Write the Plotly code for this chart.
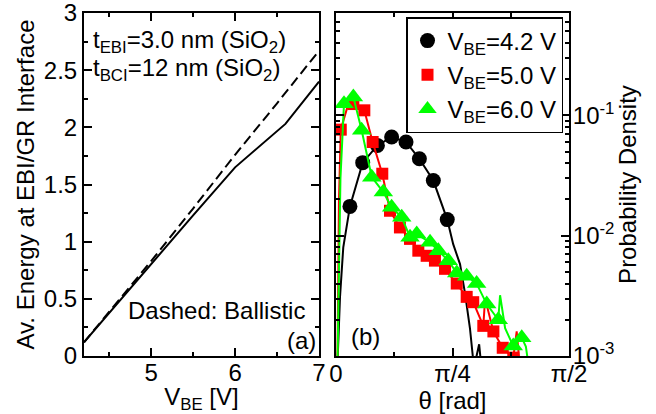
import math
import plotly.graph_objects as go

# ---------------- data: panel (a) ----------------
vbe_solid = [4.2, 4.7, 5.0, 5.5, 6.0, 6.6, 7.0]
energy_solid = [0.12, 0.55, 0.80, 1.23, 1.65, 2.03, 2.40]
vbe_dashed = [4.2, 4.7, 5.0, 5.5, 6.0, 6.5, 7.0]
energy_dashed = [0.12, 0.56, 0.83, 1.29, 1.76, 2.21, 2.67]

# ---------------- data: panel (b) ----------------
theta_42_m = [0.094, 0.180, 0.279, 0.375, 0.472, 0.562, 0.656, 0.750]
pd_42_m = [0.0175, 0.0404, 0.0562, 0.066, 0.060, 0.0435, 0.0287, 0.0136]
theta_42_l = [0.005, 0.027, 0.049, 0.094, 0.180, 0.279, 0.375, 0.472, 0.562, 0.656,
              0.750, 0.790, 0.836, 0.870, 0.903, 0.930, 0.965, 0.985]
pd_42_l = [0.0006, 0.0031, 0.008, 0.0175, 0.0404, 0.0562, 0.066, 0.060, 0.0435, 0.0287,
           0.0136, 0.0085, 0.0058, 0.0033, 0.0017, 0.0008, 0.00125, 0.0007]

theta_50_m = [0.032, 0.117, 0.191, 0.247, 0.312, 0.364, 0.431, 0.499, 0.555, 0.611,
              0.667, 0.735, 0.814, 0.881, 0.925, 0.993, 1.061, 1.124, 1.195]
pd_50_m = [0.076, 0.124, 0.110, 0.060, 0.0327, 0.0161, 0.0117, 0.0094, 0.0075, 0.0068,
           0.0062, 0.0053, 0.0040, 0.0031, 0.0028, 0.00178, 0.0016, 0.00117, 0.00097]
theta_50_l = [0.008, 0.020, 0.032, 0.090, 0.117, 0.191, 0.247, 0.312, 0.364, 0.431, 0.499,
              0.555, 0.611, 0.667, 0.735, 0.814, 0.881, 0.925, 0.993, 1.005, 1.061, 1.124,
              1.195, 1.218, 1.240]
pd_50_l = [0.0005, 0.020, 0.076, 0.133, 0.124, 0.110, 0.060, 0.0327, 0.0161, 0.0117, 0.0094,
           0.0075, 0.0068, 0.0062, 0.0053, 0.0040, 0.0031, 0.0028, 0.00178, 0.0030, 0.0016,
           0.00117, 0.00097, 0.0016, 0.0008]

theta_60_m = [0.054, 0.117, 0.173, 0.241, 0.319, 0.375, 0.443, 0.499, 0.544, 0.634,
              0.690, 0.757, 0.814, 0.881, 0.948, 1.016, 1.094, 1.195, 1.252]
pd_60_m = [0.125, 0.142, 0.075, 0.0306, 0.023, 0.0172, 0.0142, 0.0097, 0.0103, 0.0088,
           0.0075, 0.0062, 0.0049, 0.0046, 0.0040, 0.0027, 0.0020, 0.00121, 0.00142]
theta_60_l = [0.008, 0.030, 0.054, 0.117, 0.173, 0.241, 0.319, 0.375, 0.443, 0.499, 0.544,
              0.634, 0.690, 0.757, 0.814, 0.881, 0.948, 1.016, 1.094, 1.106, 1.140, 1.195,
              1.252, 1.280, 1.300]
pd_60_l = [0.0006, 0.030, 0.125, 0.142, 0.075, 0.0306, 0.023, 0.0172, 0.0142, 0.0097, 0.0103,
           0.0088, 0.0075, 0.0062, 0.0049, 0.0046, 0.0040, 0.0027, 0.0020, 0.0032, 0.0017,
           0.00121, 0.00142, 0.0012, 0.0008]

left_yticks = [0, 0.5, 1, 1.5, 2, 2.5, 3]
left_yticktext = ["0", "0.5", "1", "1.5", "2", "2.5", "3"]
left_xticks = [5, 6, 7]
right_xticks = [0, math.pi / 4, math.pi / 2]
right_xticktext = ["0", "π/4", "π/2"]
right_yticks = [1e-3, 1e-2, 1e-1]
right_yticktext = ["10<sup>-3</sup>", "10<sup>-2</sup>", "10<sup>-1</sup>"]

FONT = "Liberation Sans, Arial, Helvetica, sans-serif"
fig = go.Figure()

# panel (a)
fig.add_trace(go.Scatter(x=vbe_solid, y=energy_solid, mode="lines",
                         line=dict(color="black", width=2), showlegend=False,
                         xaxis="x", yaxis="y"))
fig.add_trace(go.Scatter(x=vbe_dashed, y=energy_dashed, mode="lines",
                         line=dict(color="black", width=2, dash="10px,5px"), showlegend=False,
                         xaxis="x", yaxis="y"))

# panel (b)
series = [
    (theta_42_l, pd_42_l, theta_42_m, pd_42_m, "black", "circle", 15, "V<sub>BE</sub>=4.2 V"),
    (theta_50_l, pd_50_l, theta_50_m, pd_50_m, "#ff0000", "square", 12, "V<sub>BE</sub>=5.0 V"),
    (theta_60_l, pd_60_l, theta_60_m, pd_60_m, "#00ff00", "triangle-up", 17, "V<sub>BE</sub>=6.0 V"),
]
for tl, pl, tm, pm, col, sym, sz, name in series:
    fig.add_trace(go.Scatter(x=tl, y=pl, mode="lines", line=dict(color=col, width=2),
                             showlegend=False, xaxis="x2", yaxis="y2"))
    fig.add_trace(go.Scatter(x=tm, y=pm, mode="markers", name=name,
                             marker=dict(color=col, symbol=sym, size=sz, line=dict(width=0)),
                             xaxis="x2", yaxis="y2"))

axis_common = dict(showline=True, linewidth=2, linecolor="black", mirror="ticks",
                   ticks="inside", ticklen=8, tickwidth=1.5, tickcolor="black",
                   showgrid=False, zeroline=False, automargin=False,
                   ticklabeloverflow="allow",
                   tickfont=dict(size=24, color="black", family=FONT))

minor_log = [k * 10 ** e for e in (-3, -2, -1) for k in range(2, 10)]

fig.update_layout(
    width=656, height=414,
    margin=dict(l=0, r=0, t=13, b=58),
    paper_bgcolor="white", plot_bgcolor="white",
    font=dict(family=FONT, size=24, color="black"),
    xaxis=dict(domain=[0.128, 0.4863], range=[4.2, 7], tickmode="array", tickvals=left_xticks,
               minor=dict(tickmode="array", tickvals=[4.5, 5.5, 6.5], ticks="inside", ticklen=4,
                          tickwidth=1.5, tickcolor="black"),
               ticklabelstandoff=-6,
               title=dict(text="V<sub>BE</sub> [V]", font=dict(size=24), standoff=0),
               anchor="y", **axis_common),
    yaxis=dict(domain=[0, 1], range=[0, 3], tickmode="array", tickvals=left_yticks,
               ticktext=left_yticktext,
               minor=dict(tickmode="array", tickvals=[0.25, 0.75, 1.25, 1.75, 2.25, 2.75],
                          ticks="inside", ticklen=4, tickwidth=1.5, tickcolor="black"),
               title=dict(text="Av. Energy at EBI/GR Interface", font=dict(size=24), standoff=2),
               anchor="x", **axis_common),
    xaxis2=dict(domain=[0.5122, 0.8674], range=[0, math.pi / 2], tickmode="array",
                tickvals=right_xticks, ticktext=right_xticktext,
                minor=dict(tickmode="array", tickvals=[math.pi / 8, 3 * math.pi / 8],
                           ticks="inside", ticklen=4, tickwidth=1.5, tickcolor="black"),
                ticklabelstandoff=-5,
                title=dict(text="θ [rad]", font=dict(size=24), standoff=0),
                anchor="y2", **axis_common),
    yaxis2=dict(domain=[0, 1], type="log", range=[-3, -0.15], side="right", tickmode="array",
                tickvals=right_yticks, ticktext=right_yticktext,
                minor=dict(tickmode="array", tickvals=minor_log, ticks="inside", ticklen=4,
                           tickwidth=1.5, tickcolor="black"),
                ticklabelstandoff=-3,
                title=dict(text="Probability Density", font=dict(size=24), standoff=0),
                anchor="x2", **axis_common),
    legend=dict(x=563 / 656, xanchor="right", y=(356 - 17) / 343, yanchor="top",
                bgcolor="white", bordercolor="black", borderwidth=1.5,
                font=dict(size=24, family=FONT), itemwidth=30, tracegroupgap=0,
                itemsizing="trace"),
    annotations=[
        dict(text="t<sub>EBI</sub>=3.0 nm (SiO<sub>2</sub>)", x=91 / 656, xanchor="left",
             y=(356 - 42) / 343, yanchor="middle", xref="paper", yref="paper",
             showarrow=False, font=dict(size=24)),
        dict(text="t<sub>BCI</sub>=12 nm (SiO<sub>2</sub>)", x=91 / 656, xanchor="left",
             y=(356 - 70) / 343, yanchor="middle", xref="paper", yref="paper",
             showarrow=False, font=dict(size=24)),
        dict(text="Dashed: Ballistic", x=307 / 656, xanchor="right", y=(356 - 310) / 343,
             yanchor="middle", xref="paper", yref="paper", showarrow=False, font=dict(size=24)),
        dict(text="(a)", x=318 / 656, xanchor="right", y=(356 - 340) / 343,
             yanchor="middle", xref="paper", yref="paper", showarrow=False, font=dict(size=24)),
        dict(text="(b)", x=349 / 656, xanchor="left", y=(356 - 336) / 343,
             yanchor="middle", xref="paper", yref="paper", showarrow=False, font=dict(size=24)),
    ],
)

fig.write_html("out.html", config={"displayModeBar": False},
               post_script="document.body.style.margin='0';")
